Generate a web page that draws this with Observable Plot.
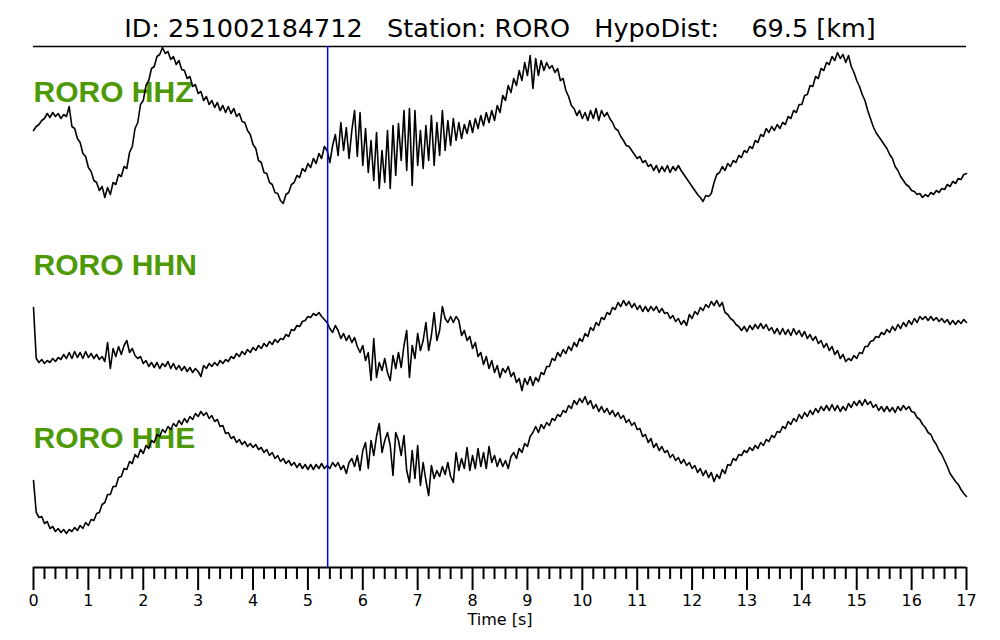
<!DOCTYPE html>
<html><head><meta charset="utf-8">
<script src="https://cdn.jsdelivr.net/npm/d3@7"></script>
<script src="https://cdn.jsdelivr.net/npm/@observablehq/plot@0.6"></script>
<style>
body{margin:0;background:#fff}
svg text{white-space:pre}
</style></head><body><div id="chart"></div>
<script>
const title = "ID: 251002184712   Station: RORO   HypoDist:    69.5 [km]";
const channels = ["RORO HHZ", "RORO HHN", "RORO HHE"];
const offsets = [0, -173, -346];      // trace baselines (scaled counts)
const labelLift = 40;
const dt = 0.05;                       // s
const pickTime = 5.36;                 // s (blue marker)
const majorTicks = [0,1,2,3,4,5,6,7,8,9,10,11,12,13,14,15,16,17];
const yDomain = [-435, 86];

const hhz = [2,6,8,12,14,19,15,20,16,19,14,18,16,26,6,4,-6,-10,-21,-24,-35,-39,-48,-50,-58,-54,-65,-55,-62,-50,-52,-42,-44,-34,-36,-20,-14,4,10,28,32,47,52,64,66,76,78,85,79,81,73,76,68,72,63,62,54,56,46,48,39,41,32,36,28,32,25,30,22,27,20,26,19,24,16,19,11,10,2,-2,-12,-16,-28,-30,-40,-41,-50,-52,-60,-61,-68,-71,-62,-60,-52,-50,-43,-45,-36,-39,-31,-35,-26,-31,-21,-26,-14,-18,-30,-13,-2,-23,10,-18,5,-26,2,22,-24,20,-33,4,-40,-8,-48,0,-56,-18,-50,2,-56,7,-43,9,-28,22,-38,24,-53,22,-33,2,-36,7,-28,17,-33,10,-23,22,-18,12,-13,14,-8,10,-6,8,-1,12,0,14,4,17,7,20,10,22,12,27,20,37,32,47,40,54,47,62,52,70,57,77,44,74,57,72,62,70,64,67,60,64,52,54,42,36,27,24,17,22,14,20,12,22,14,24,12,22,16,20,14,10,4,2,-4,-8,-13,-14,-18,-22,-26,-24,-30,-28,-34,-32,-38,-33,-40,-34,-39,-33,-40,-34,-38,-33,-38,-42,-46,-50,-54,-58,-62,-65,-69,-63,-64,-61,-50,-42,-40,-34,-38,-31,-34,-28,-30,-23,-25,-18,-20,-14,-16,-8,-10,-2,-4,4,0,6,2,8,4,10,8,16,14,22,20,28,28,37,38,47,46,56,54,64,62,70,68,76,72,80,74,78,70,77,66,60,52,46,38,32,22,14,6,0,-4,-8,-12,-16,-22,-26,-34,-38,-44,-48,-52,-54,-58,-59,-62,-61,-65,-62,-64,-60,-62,-58,-60,-56,-57,-52,-54,-49,-51,-46,-47,-42,-41];

const hhn = [-2,-53,-57,-54,-58,-55,-57,-53,-56,-52,-54,-49,-53,-47,-53,-46,-52,-47,-53,-46,-52,-48,-53,-49,-54,-51,-56,-37,-63,-43,-51,-41,-49,-40,-35,-47,-43,-50,-53,-51,-58,-55,-61,-57,-62,-57,-63,-58,-61,-56,-63,-58,-64,-60,-65,-61,-66,-62,-67,-63,-66,-71,-60,-63,-58,-61,-57,-60,-55,-58,-54,-56,-51,-53,-48,-51,-46,-49,-44,-47,-42,-45,-40,-43,-38,-41,-36,-39,-34,-37,-33,-34,-29,-31,-24,-25,-20,-21,-16,-15,-11,-12,-8,-10,-7,-11,-14,-17,-23,-27,-20,-25,-33,-28,-35,-30,-37,-32,-41,-47,-40,-55,-47,-75,-33,-72,-57,-65,-53,-67,-75,-50,-63,-47,-62,-40,-25,-72,-40,-53,-28,-45,-35,-17,-45,-30,-7,-35,-25,-1,-13,-17,-11,-17,-11,-15,-30,-25,-35,-31,-43,-37,-51,-47,-59,-51,-63,-55,-67,-60,-72,-63,-67,-61,-71,-67,-77,-73,-85,-73,-79,-71,-80,-72,-76,-67,-69,-61,-61,-53,-55,-47,-51,-44,-48,-41,-45,-37,-41,-33,-36,-28,-31,-22,-25,-17,-20,-12,-14,-7,-9,-2,-4,3,-1,5,0,4,-2,2,-4,0,-6,-1,-6,-1,-5,-1,-7,-3,-8,-7,-13,-10,-16,-13,-19,-15,-20,-9,-13,-6,-9,-2,-5,1,-2,4,0,5,-1,3,-7,-9,-13,-15,-19,-21,-25,-21,-26,-20,-24,-19,-23,-18,-23,-19,-25,-22,-28,-23,-29,-23,-29,-24,-30,-23,-29,-25,-31,-26,-33,-29,-35,-31,-38,-35,-42,-38,-45,-41,-49,-45,-53,-49,-56,-53,-55,-50,-53,-47,-48,-41,-41,-36,-35,-31,-32,-27,-29,-24,-27,-21,-25,-19,-23,-17,-21,-15,-19,-13,-17,-11,-14,-11,-15,-11,-15,-12,-16,-13,-17,-14,-19,-15,-19,-15,-18,-14,-17];

const hhe = [-2,-34,-39,-38,-45,-43,-50,-48,-53,-50,-54,-51,-55,-51,-53,-49,-52,-47,-50,-44,-47,-41,-42,-35,-34,-26,-24,-16,-16,-8,-8,1,2,10,9,17,15,24,21,29,25,33,30,38,36,44,42,49,46,52,49,55,52,58,54,60,56,62,59,65,62,67,63,66,60,63,57,59,52,53,45,46,40,42,36,39,34,37,32,35,31,34,29,31,26,29,23,26,20,23,17,20,15,18,13,16,11,15,10,14,9,14,9,14,10,15,10,13,10,16,12,16,9,13,5,16,20,12,23,8,28,36,10,38,23,42,55,26,38,46,33,3,46,38,23,43,8,-4,28,0,33,-7,16,-2,-17,13,0,8,2,12,4,16,2,-4,26,8,20,10,31,8,23,10,30,12,26,10,32,16,23,12,20,12,18,10,22,26,20,30,26,35,32,42,46,52,46,54,50,56,53,60,58,64,62,68,66,73,70,78,74,80,76,82,74,78,70,74,67,72,66,70,64,68,62,66,60,63,56,59,53,56,49,50,42,44,36,40,31,35,28,32,26,28,21,24,18,21,15,19,13,16,10,13,6,10,3,8,1,6,-3,4,0,9,5,14,13,20,18,24,23,28,26,31,28,33,30,36,33,39,37,43,41,47,46,52,50,57,54,60,57,64,60,66,62,68,64,70,66,72,68,73,68,74,68,73,67,72,68,75,71,77,73,78,73,79,74,77,71,74,68,72,67,72,67,71,66,72,68,73,69,72,67,66,61,59,54,51,46,44,38,34,28,24,18,12,5,1,-3,-6,-11,-15,-18];

const traces = [hhz, hhn, hhe];
const samples = traces.flatMap((arr, k) =>
  arr.map((v, i) => ({t: i * dt, y: offsets[k] + v, ch: channels[k]})));
const labels = channels.map((c, k) => ({text: c, y: offsets[k] + labelLift}));
const minorTicks = d3.range(0, 85).map(i => i / 5).filter(v => !Number.isInteger(v));

const chart = Plot.plot({
  width: 1000,
  height: 640,
  marginTop: 46,
  marginBottom: 73,
  marginLeft: 33,
  marginRight: 34,
  style: {fontFamily: "DejaVu Sans", background: "#fff", color: "#000"},
  x: {domain: [0, 17], axis: null},
  y: {domain: yDomain, axis: null},
  marks: [
    Plot.ruleY([yDomain[1]], {stroke: "#000", strokeWidth: 1.5}),
    Plot.text(labels, {frameAnchor: "left", y: "y", text: "text", textAnchor: "start",
      fill: "#4e9a06", fontWeight: "bold", fontSize: 30, fontFamily: "Liberation Sans"}),
    Plot.line(samples, {x: "t", y: "y", z: "ch", stroke: "#000", strokeWidth: 1.6, strokeLinejoin: "round"}),
    Plot.ruleX([pickTime], {stroke: "#0000ff", strokeWidth: 1.5}),
    Plot.axisX(minorTicks, {tickSize: 12, tickFormat: () => "", strokeWidth: 2, label: null}),
    Plot.axisX(majorTicks, {tickSize: 23, tickPadding: 4, tickFormat: d => String(d), fontSize: 16, strokeWidth: 2, label: null}),
    Plot.ruleY([yDomain[0]], {stroke: "#000", strokeWidth: 2}),
    Plot.text([title], {frameAnchor: "top", dy: -18, fontSize: 25.5, lineAnchor: "middle", fill: "#000"}),
    Plot.text(["Time [s]"], {frameAnchor: "bottom", dy: 52, fontSize: 16, lineAnchor: "middle", fill: "#000"})
  ]
});
document.getElementById("chart").appendChild(chart);
</script></body></html>
